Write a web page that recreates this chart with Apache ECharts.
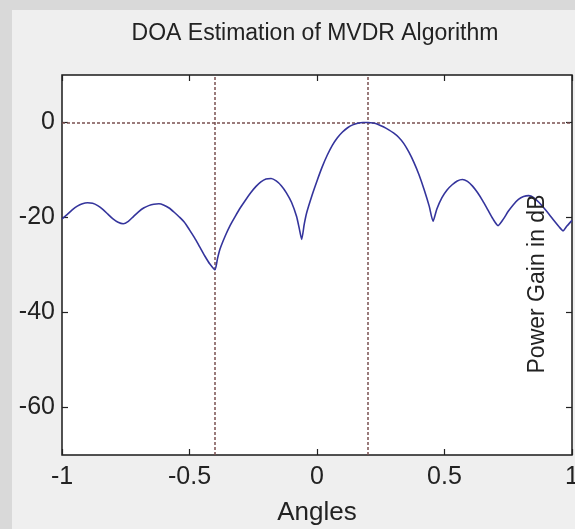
<!DOCTYPE html>
<html>
<head>
<meta charset="utf-8">
<script src="https://cdn.jsdelivr.net/npm/echarts@6/dist/echarts.min.js"></script>
<style>
  html, body { margin: 0; padding: 0; background: #d9d9d9; }
  #chart { width: 575px; height: 529px; }
</style>
</head>
<body>
<div id="chart"></div>
<script>
// ---- data ----
const titleText = 'DOA Estimation of MVDR Algorithm';
const xName = 'Angles';
const yName = 'Power Gain in dB';

const angles = [
  -1.00, -0.98, -0.96, -0.94, -0.92, -0.90, -0.88, -0.86, -0.84, -0.82,
  -0.80, -0.78, -0.76, -0.74, -0.72, -0.70, -0.68, -0.66, -0.64, -0.62,
  -0.60, -0.58, -0.56, -0.54, -0.52, -0.50, -0.48, -0.46, -0.44, -0.42,
  -0.40, -0.39, -0.38, -0.36, -0.34, -0.32, -0.30, -0.28, -0.26, -0.24,
  -0.22, -0.20, -0.18, -0.16, -0.14, -0.12, -0.10, -0.08, -0.07, -0.06,
  -0.05, -0.04, -0.02, 0.00, 0.02, 0.04, 0.06, 0.08, 0.10, 0.12,
  0.14, 0.16, 0.18, 0.20, 0.22, 0.24, 0.26, 0.28, 0.30, 0.32,
  0.34, 0.36, 0.38, 0.40, 0.42, 0.44, 0.455, 0.47, 0.49, 0.51,
  0.53, 0.55, 0.57, 0.59, 0.61, 0.63, 0.65, 0.67, 0.69, 0.71,
  0.73, 0.75, 0.77, 0.79, 0.81, 0.83, 0.85, 0.87, 0.89, 0.91,
  0.93, 0.95, 0.965, 0.98, 1.00
];
const gainDb = [
  -20.3, -19.4, -18.4, -17.6, -17.1, -16.9, -17.0, -17.5, -18.3, -19.3,
  -20.3, -21.0, -21.3, -20.8, -19.8, -18.8, -18.0, -17.5, -17.2, -17.1,
  -17.4, -18.0, -18.9, -19.9, -21.0, -22.6, -24.3, -26.2, -28.1, -29.8,
  -31.0, -28.6, -26.6, -23.9, -21.6, -19.7, -17.9, -16.3, -14.8, -13.5,
  -12.5, -11.9, -11.8, -12.3, -13.3, -14.8, -16.8, -19.8, -22.2, -24.6,
  -21.4, -18.9, -15.4, -12.3, -9.4, -6.9, -4.8, -3.2, -2.0, -1.1,
  -0.5, -0.15, 0.0, 0.0, -0.1, -0.4, -0.9, -1.5, -2.2, -3.1,
  -4.4, -6.2, -8.4, -11.0, -14.1, -17.6, -20.8, -18.2, -15.8, -14.2,
  -13.1, -12.3, -12.0, -12.4, -13.4, -14.8, -16.5, -18.4, -20.3, -21.7,
  -20.4, -18.7, -17.3, -16.2, -15.6, -15.4, -15.8, -16.8, -18.0, -19.3,
  -20.7, -22.0, -22.8, -21.8, -20.6
];
const doaAngles = [-0.4, 0.2];   // true source directions
const refLevels = [0];           // 0 dB reference
const xTicks = [-1, -0.5, 0, 0.5, 1];
const yTicks = [-60, -40, -20, 0];
const xRange = [-1, 1];
const yRange = [-70, 10];

// ---- chart ----
const chart = echarts.init(document.getElementById('chart'), null, { renderer: 'canvas' });
const font = "'Liberation Sans', Arial, sans-serif";
const textColor = '#222';
const tickStyle = { show: true, inside: true, length: 6, lineStyle: { color: '#222', width: 1.2 } };
const hiddenLine = { show: false, onZero: false };

const seriesData = angles.map((a, i) => [a, gainDb[i]]);
const markLines = doaAngles.map(v => ({ xAxis: v })).concat(refLevels.map(v => ({ yAxis: v })));

chart.setOption({
  backgroundColor: '#d9d9d9',
  animation: false,
  textStyle: { fontFamily: font },
  title: {
    text: titleText,
    left: 310,
    top: 17,
    textAlign: 'center',
    textStyle: { fontFamily: font, fontSize: 23, fontWeight: 'normal', color: textColor }
  },
  graphic: [
    { type: 'rect', z: -10, silent: true, shape: { x: 12, y: 10, width: 563, height: 519 }, style: { fill: '#efefef' } },
    { type: 'text', z: 10, silent: true, x: 538, y: 284, rotation: Math.PI / 2,
      style: { text: yName, font: '23px ' + font, fill: textColor, align: 'center', verticalAlign: 'middle' } }
  ],
  grid: {
    left: 62, right: 3, top: 75, bottom: 74,
    outerBoundsMode: 'none',
    containLabel: false,
    show: true, backgroundColor: '#ffffff', borderColor: '#1a1a1a', borderWidth: 1.5
  },
  xAxis: [
    {
      type: 'value', position: 'bottom', min: xRange[0], max: xRange[1], interval: 0.5,
      axisLine: hiddenLine, splitLine: { show: false },
      axisTick: Object.assign({}, tickStyle, { customValues: xTicks }),
      axisLabel: { customValues: xTicks, fontSize: 25, color: textColor, margin: 10, fontFamily: font },
      name: xName, nameLocation: 'middle', nameGap: 45,
      nameTextStyle: { fontSize: 26, color: textColor, fontFamily: font }
    },
    {
      type: 'value', position: 'top', min: xRange[0], max: xRange[1], interval: 0.5,
      axisLine: hiddenLine, splitLine: { show: false }, axisLabel: { show: false },
      axisTick: Object.assign({}, tickStyle, { customValues: xTicks })
    }
  ],
  yAxis: [
    {
      type: 'value', position: 'left', min: yRange[0], max: yRange[1],
      axisLine: hiddenLine, splitLine: { show: false },
      axisTick: Object.assign({}, tickStyle, { customValues: yTicks }),
      axisLabel: { customValues: yTicks, fontSize: 25, color: textColor, margin: 7, fontFamily: font }
    },
    {
      type: 'value', position: 'right', min: yRange[0], max: yRange[1],
      axisLine: hiddenLine, splitLine: { show: false }, axisLabel: { show: false },
      axisTick: Object.assign({}, tickStyle, { customValues: yTicks })
    }
  ],
  series: [
    {
      type: 'line',
      data: seriesData,
      showSymbol: false,
      smooth: 0.2,
      lineStyle: { color: '#34349c', width: 1.6 },
      markLine: {
        silent: true,
        symbol: 'none',
        label: { show: false },
        lineStyle: { color: '#7a5050', type: [3, 2], width: 1.5 },
        data: markLines
      },
      z: 5
    }
  ]
});
</script>
</body>
</html>
